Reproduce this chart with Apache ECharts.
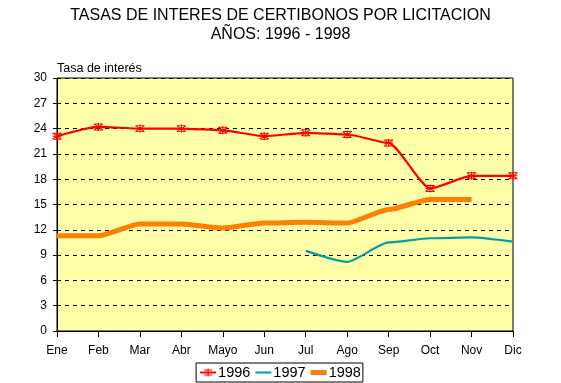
<!DOCTYPE html>
<html><head><meta charset="utf-8">
<script src="https://cdn.jsdelivr.net/npm/echarts@6/dist/echarts.min.js"></script>
<style>html,body{margin:0;padding:0;background:#fff}#c{width:561px;height:383px}</style>
</head><body><div id="c"></div>
<script>
const categories = ['Ene','Feb','Mar','Abr','Mayo','Jun','Jul','Ago','Sep','Oct','Nov','Dic'];
const s1996 = [23.1, 24.2, 24.0, 24.0, 23.8, 23.1, 23.5, 23.3, 22.3, 16.9, 18.4, 18.4];
const s1997 = [null, null, null, null, null, null, 9.5, 8.2, 10.5, 11.0, 11.1, 10.6];
const s1998 = [11.3, 11.3, 12.7, 12.7, 12.2, 12.8, 12.9, 12.8, 14.4, 15.6, 15.6, null];
const yTicks = [0,3,6,9,12,15,18,21,24,27,30];

const font = 'Liberation Sans, Arial, sans-serif';
const chart = echarts.init(document.getElementById('c'));
const star = 'path://M-4,-3L4,-3M-4,3L4,3M0,-4L0,4M-4,-3L4,3M-4,3L4,-3M-4,0L4,0';
// legend icons (16x10 box, tiny corner dots keep the bounding box)
const box = 'M0,0L0.01,0L0,0.01Z M16,10L15.99,10L16,9.99Z ';
const icon1996 = 'path://' + box + 'M0,4L16,4L16,6L0,6Z M7.5,1L8.5,1L8.5,9L7.5,9Z M4,2L12,2L12,3L4,3Z M4,7L12,7L12,8L4,8Z';
const icon1997 = 'path://' + box + 'M0,4L16,4L16,6L0,6Z';
const icon1998 = 'path://' + box + 'M0,2.5L16,2.5L16,7.5L0,7.5Z';
chart.setOption({
  animation: false,
  title: {
    text: 'TASAS DE INTERES DE CERTIBONOS POR LICITACION\nAÑOS: 1996 - 1998',
    left: 'center', top: 1,
    textStyle: {fontFamily: font, fontWeight: 'normal', fontSize: 16, color: '#000', lineHeight: 19}
  },
  grid: {left: 57, right: 48, top: 78, bottom: 52, show: true, backgroundColor: '#FFFFAA', borderColor: '#000', borderWidth: 1},
  legend: {
    bottom: 1, left: 'center',
    borderColor: '#000', borderWidth: 1, padding: [2, 2, 2, 4],
    itemWidth: 16, itemHeight: 10, itemGap: 5,
    textStyle: {fontFamily: font, fontSize: 14.5, color: '#000', padding: [0, 0, 0, -3]},
    data: [
      {name: '1996', icon: icon1996, itemStyle: {color: '#FF0000', borderWidth: 0}},
      {name: '1997', icon: icon1997, itemStyle: {color: '#00A0A0', borderWidth: 0}},
      {name: '1998', icon: icon1998, itemStyle: {color: '#FF8000', borderWidth: 0}}
    ]
  },
  xAxis: {
    type: 'category', data: categories, boundaryGap: false,
    axisLine: {lineStyle: {color: '#000', width: 1}},
    axisTick: {show: true, length: 6, lineStyle: {color: '#000'}},
    axisLabel: {fontFamily: font, fontSize: 12, color: '#000', margin: 14, interval: 0},
    splitLine: {show: false}
  },
  yAxis: {
    type: 'value', min: 0, max: 30, interval: 3,
    name: 'Tasa de interés', nameLocation: 'end', nameGap: 3,
    nameTextStyle: {fontFamily: font, fontSize: 12.5, color: '#000', align: 'left', padding: [0, 0, 0, 0]},
    axisLine: {show: true, lineStyle: {color: '#000'}},
    axisTick: {show: true, length: 4, lineStyle: {color: '#000'}},
    axisLabel: {fontFamily: font, fontSize: 12, color: '#000', margin: 10,
      formatter: v => yTicks.includes(v) ? String(v) : ''},
    splitLine: {show: true, lineStyle: {color: '#000', type: [4, 4], width: 1}}
  },
  series: [
    {name: '1996', type: 'line', data: s1996, smooth: 0.2, smoothMonotone: 'x',
     lineStyle: {color: '#FF0000', width: 2.2}, itemStyle: {color: 'rgba(0,0,0,0)', borderColor: '#FF0000', borderWidth: 1},
     symbol: star, symbolSize: [9, 8], showSymbol: true, z: 4},
    {name: '1997', type: 'line', data: s1997, smooth: 0.2, smoothMonotone: 'x',
     lineStyle: {color: '#00A0A0', width: 2.2}, itemStyle: {color: '#00A0A0'},
     symbol: 'none', z: 3},
    {name: '1998', type: 'line', data: s1998, smooth: 0.2, smoothMonotone: 'x',
     lineStyle: {color: '#FF8000', width: 5}, itemStyle: {color: '#FF8000'},
     symbol: 'none', z: 2}
  ]
});
</script></body></html>
